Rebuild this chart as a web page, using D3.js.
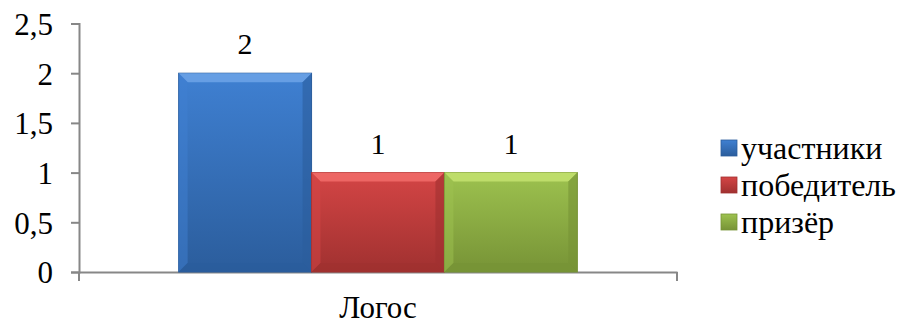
<!DOCTYPE html>
<html><head><meta charset="utf-8">
<script src="https://cdn.jsdelivr.net/npm/d3@7"></script>
<style>body{margin:0;background:#fff}svg{display:block}</style>
</head><body><svg id="c" width="902" height="329"></svg>
<script>
const categories = ["Логос"];
const seriesNames = ["участники", "победитель", "призёр"];
const seriesValues = [[2], [1], [1]];
const yTicks = [0, 0.5, 1, 1.5, 2, 2.5];
const colors = [["#6aa2e6","#3f80d2","#2b5d9c"],["#ef6a68","#d44545","#a03130"],["#c2e06e","#9dc24f","#779336"]];
const FONT = "'Liberation Serif'";

const svg = d3.select("#c");
const x0 = d3.scaleBand().domain(categories).range([79, 677]).paddingInner(0).paddingOuter(0);
const y = d3.scaleLinear().domain([0, 2.5]).range([272, 23.5]);
const groupW = x0.bandwidth() * 3 / 4.5;
const x1 = d3.scaleBand().domain(seriesNames).range([0, groupW]);
const fmt = v => String(v).replace(".", ",");

const defs = svg.append("defs");
colors.forEach((c, i) => {
  const g = defs.append("linearGradient").attr("id", "g" + i).attr("x1", 0).attr("y1", 0).attr("x2", 0).attr("y2", 1);
  g.append("stop").attr("offset", "0%").attr("stop-color", c[1]);
  g.append("stop").attr("offset", "100%").attr("stop-color", c[2]);
});

// axes
const yAxis = svg.append("g").attr("transform", "translate(79,0)")
  .call(d3.axisLeft(y).tickValues(yTicks).tickFormat(fmt).tickSize(8).tickPadding(18));
yAxis.select(".domain").attr("stroke", "#878787").attr("stroke-width", 2);
yAxis.selectAll(".tick line").attr("stroke", "#878787").attr("stroke-width", 2);
yAxis.selectAll(".tick text").style("font-family", FONT).style("font-size", "31px").attr("fill", "#000").attr("dy", "0.35em");

const xAxis = svg.append("g").attr("transform", "translate(0,272)")
  .call(d3.axisBottom(x0).tickSize(0).tickPadding(24));
xAxis.select(".domain").attr("stroke", "#878787").attr("stroke-width", 2);
xAxis.selectAll(".tick text").style("font-family", FONT).style("font-size", "31px").attr("fill", "#000");
svg.append("g").selectAll("line").data([x0.range()[0], x0.range()[1]]).join("line")
  .attr("x1", d => d).attr("x2", d => d).attr("y1", 272).attr("y2", 281)
  .attr("stroke", "#878787").attr("stroke-width", 2);

// bars
const gx = x0(categories[0]) + (x0.bandwidth() - groupW) / 2;
seriesNames.forEach((s, i) => {
  const v = seriesValues[i][0];
  const bx = gx + x1(s), bw = x1.bandwidth(), by = y(v), bh = y(0) - by;
  const g = svg.append("g");
  g.append("rect").attr("x", bx).attr("y", by).attr("width", bw).attr("height", bh).attr("fill", `url(#g${i})`)
    .attr("stroke", colors[i][2]).attr("stroke-width", 1);
  const b = 9;
  g.append("polygon").attr("points", [[bx, by], [bx + bw, by], [bx + bw - b, by + b], [bx + b, by + b]].join(" "))
    .attr("fill", colors[i][0]).attr("opacity", 0.9);
  g.append("polygon").attr("points", [[bx, by], [bx + b, by + b], [bx + b, by + bh - b], [bx, by + bh]].join(" "))
    .attr("fill", colors[i][1]).attr("opacity", 0.5);
  g.append("polygon").attr("points", [[bx + bw, by], [bx + bw, by + bh], [bx + bw - b, by + bh - b], [bx + bw - b, by + b]].join(" "))
    .attr("fill", colors[i][2]).attr("opacity", 0.6);
  g.append("polygon").attr("points", [[bx, by + bh], [bx + b, by + bh - b], [bx + bw - b, by + bh - b], [bx + bw, by + bh]].join(" "))
    .attr("fill", colors[i][2]).attr("opacity", 0.8);
  svg.append("text").attr("x", bx + bw / 2).attr("y", by - 19).attr("text-anchor", "middle")
    .style("font-family", FONT).style("font-size", "30px").attr("fill", "#000").text(fmt(v));
});

// legend
const leg = svg.append("g");
seriesNames.forEach((s, i) => {
  const ly = 148 + i * 37;
  leg.append("rect").attr("x", 721).attr("y", ly - 8).attr("width", 16).attr("height", 16)
    .attr("fill", `url(#g${i})`).attr("stroke", colors[i][2]).attr("stroke-width", 0.8);
  leg.append("text").attr("x", 741).attr("y", ly).attr("dy", "0.33em")
    .style("font-family", FONT).style("font-size", "32px").attr("fill", "#000").text(s);
});
</script></body></html>
